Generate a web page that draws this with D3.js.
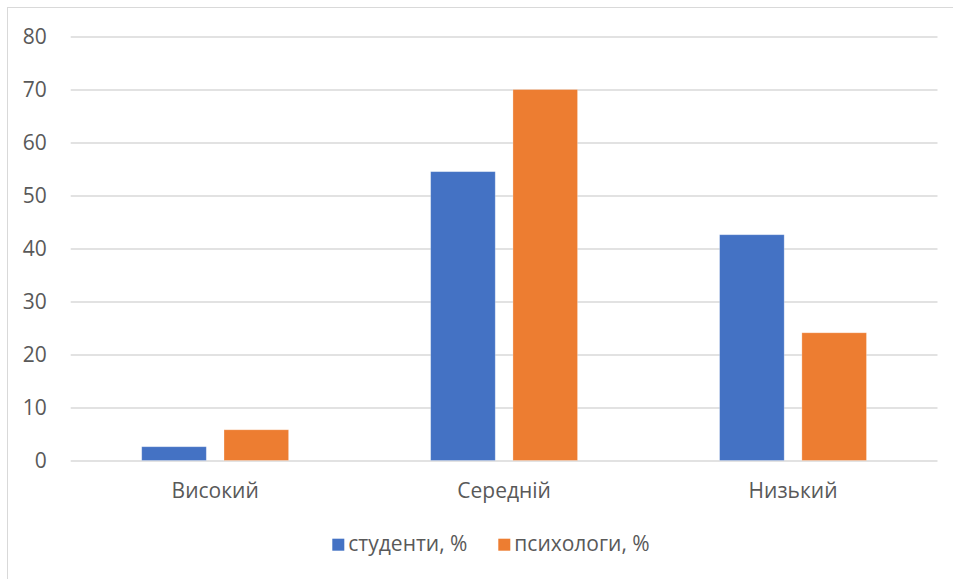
<!DOCTYPE html>
<html>
<head>
<meta charset="utf-8">
<script src="https://cdn.jsdelivr.net/npm/d3@7"></script>
<style>
  html, body { margin: 0; padding: 0; background: #fff; }
  svg { display: block; }
  text { font-family: "Open Sans", "Segoe UI", sans-serif; fill: #595959; }
</style>
</head>
<body>
<svg id="chart" width="953" height="579"></svg>
<script>
const categories = ["Високий", "Середній", "Низький"];
const seriesNames = ["студенти, %", "психологи, %"];
const students = [2.6, 54.5, 42.6];
const psychologists = [5.8, 70, 24.1];
const yTicks = [0, 10, 20, 30, 40, 50, 60, 70, 80];
const colors = ["#4472C4", "#ED7D31"];

const seriesValues = [students, psychologists];
const svg = d3.select("#chart");
const FS = 21;

// chart area frame
svg.append("rect")
  .attr("x", 7.5).attr("y", 7.5)
  .attr("width", 1000).attr("height", 1000)
  .attr("fill", "#fff").attr("stroke", "#d9d9d9").attr("stroke-width", 1);

const plotLeft = 70.7, plotRight = 937.5, plotTop = 36.5, plotBottom = 460.5;

const x0 = d3.scaleBand().domain(categories).range([plotLeft, plotRight]).padding(0);
const band = x0.bandwidth();
const groupW = 146.9;
const x1 = d3.scaleBand().domain(seriesNames)
  .range([(band - groupW) / 2, (band + groupW) / 2])
  .paddingInner(0.215).paddingOuter(0);
const y = d3.scaleLinear().domain([0, 80]).range([plotBottom, plotTop]);

// gridlines + y labels
const yAxis = d3.axisLeft(y).tickValues(yTicks).tickSize(-(plotRight - plotLeft)).tickPadding(24).tickFormat(d3.format("d"));
const gy = svg.append("g").attr("transform", `translate(${plotLeft},0)`).call(yAxis);
gy.select(".domain").remove();
gy.selectAll(".tick line").attr("stroke", "#d9d9d9").attr("stroke-width", 1.3);
gy.selectAll(".tick text").attr("font-size", FS).attr("fill", "#595959")
  .style("font-family", '"Open Sans", sans-serif');

// bars
const groups = svg.append("g").selectAll("g")
  .data(categories)
  .join("g")
  .attr("transform", d => `translate(${x0(d)},0)`);

groups.selectAll("rect")
  .data((c, i) => seriesNames.map((s, j) => ({ s, v: seriesValues[j][i], j })))
  .join("rect")
  .attr("x", d => x1(d.s))
  .attr("y", d => y(d.v))
  .attr("width", x1.bandwidth())
  .attr("height", d => y(0) - y(d.v))
  .attr("fill", d => colors[d.j])
  .attr("stroke", "#fff").attr("stroke-opacity", 0.35).attr("stroke-width", 0.8);

// x axis labels
const xAxis = d3.axisBottom(x0).tickSize(0).tickPadding(23);
const gx = svg.append("g").attr("transform", `translate(0,${plotBottom})`).call(xAxis);
gx.select(".domain").remove();
gx.selectAll(".tick text").attr("font-size", FS).attr("fill", "#595959")
  .style("font-family", '"Open Sans", sans-serif');

// legend
const legendX = [332.3, 498.3];
const legend = svg.append("g").selectAll("g")
  .data(seriesNames)
  .join("g")
  .attr("transform", (d, i) => `translate(${legendX[i]},538.7)`);
legend.append("rect").attr("width", 12).attr("height", 12).attr("fill", (d, i) => colors[i]);
legend.append("text").attr("x", 16).attr("y", 12.4)
  .attr("font-size", FS).attr("fill", "#595959").text(d => d);
</script>
</body>
</html>
